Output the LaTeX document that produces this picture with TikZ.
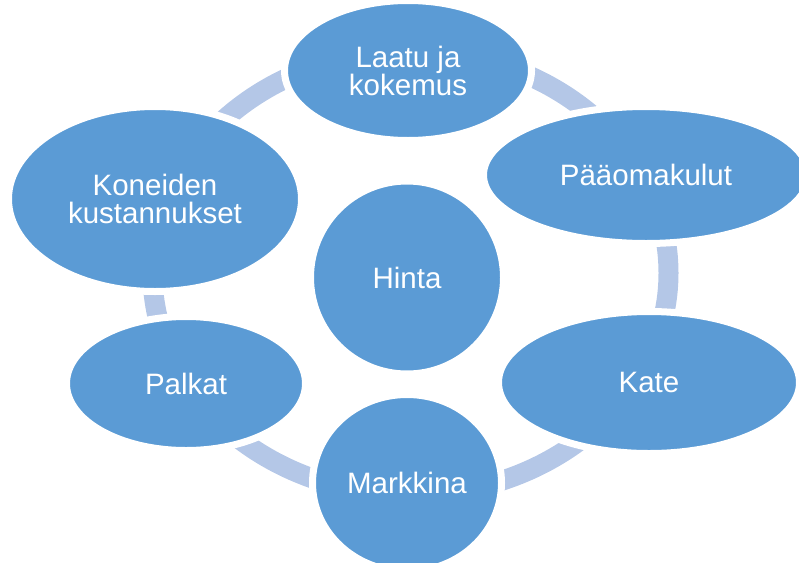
\documentclass[tikz,border=0pt]{standalone}
\usepackage{fontspec}
\setmainfont{Liberation Sans}
\usetikzlibrary{shapes.geometric}
\definecolor{nodeblue}{HTML}{5B9BD5}
\definecolor{ringblue}{HTML}{B4C7E7}
\begin{document}
\begin{tikzpicture}[x=1pt,y=-1pt,
  bubble/.style={ellipse, fill=nodeblue, draw=white, line width=7pt,
    inner sep=0pt, text=white, align=center,
    font=\fontsize{29.5}{28}\selectfont},
  ring/.style={draw=ringblue, line width=20pt}
]
\useasboundingbox (0,0) rectangle (799,562);
\clip (0,0) rectangle (799,562);
% cycle ring behind the bubbles
\path[ring] (410.5,273) ellipse [x radius=258, y radius=222];
% bubbles (white outline leaves a small gap around the ring)
\node[bubble, minimum width=247pt, minimum height=140pt] (laatu) at (408,70.5) {Laatu ja\\kokemus};
\node[bubble, minimum width=325pt, minimum height=137pt] (paaoma) at (646,175) {Pääomakulut};
\node[bubble, minimum width=301pt, minimum height=142pt] (kate) at (649,382.5) {Kate};
\node[bubble, minimum width=189pt, minimum height=177pt] (markkina) at (407,483) {Markkina};
\node[bubble, minimum width=239pt, minimum height=134pt] (palkat) at (186,383.5) {Palkat};
\node[bubble, minimum width=293pt, minimum height=185pt] (koneet) at (155,199) {Koneiden\\kustannukset};
\node[bubble, minimum width=193pt, minimum height=193pt] (hinta) at (407,277.5) {Hinta};
\end{tikzpicture}
\end{document}
